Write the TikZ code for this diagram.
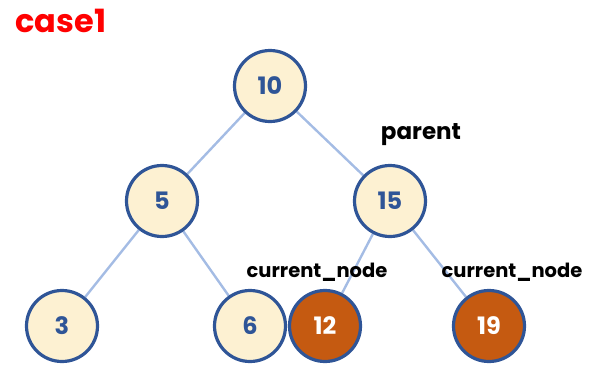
\documentclass[tikz,border=0pt]{standalone}
\usepackage{fontspec}
\setmainfont{Poppins}
\usetikzlibrary{positioning, backgrounds}
\definecolor{nodefill}{HTML}{FDF1D2}
\definecolor{nodeline}{HTML}{2F5597}
\definecolor{curfill}{HTML}{C55A11}
\definecolor{edgeline}{HTML}{A4BCE4}
\tikzset{
  tnode/.style={draw=nodeline, line width=3.2pt, circle, fill=nodefill, minimum size=71pt, inner sep=0pt, text=nodeline, font=\fontsize{24}{26}\selectfont\bfseries},
  cnode/.style={tnode, fill=curfill, text=white},
  tedge/.style={draw=edgeline, line width=2.4pt},
  tlabel/.style={font=\fontsize{19.5}{21}\selectfont\bfseries, text=black}
}
\begin{document}
\begin{tikzpicture}[x=1pt, y=-1pt]
        \useasboundingbox (0,0) rectangle (590,376);
        \node[font=\fontsize{32}{34}\selectfont\bfseries, text=red, anchor=west] (title) at (12,21) {case1};

        \node[tnode] (n10) at (270,86) {10};
        \node[tnode] (n5) at (162,201) {5};
        \node[tnode] (n15) at (390,201) {15};
        \node[tnode] (n3) at (62,326) {3};
        \node[tnode] (n6) at (250,326) {6};
        \node[cnode] (n12) at (325,326) {12};
        \node[cnode] (n19) at (489,326) {19};

        \node[font=\fontsize{23}{25}\selectfont\bfseries] (par) at (421,135) {parent};
        \node[tlabel] (cur1) at (317,272) {current\_node};
        \node[tlabel] (cur2) at (512,272) {current\_node};

        % edges behind the circles
        \begin{scope}[on background layer]
            \draw[tedge] (n10) -- (n5);
            \draw[tedge] (n10) -- (n15);
            \draw[tedge] (n5) -- (n3);
            \draw[tedge] (n5) -- (n6);
            \draw[tedge] (n15) -- (n12);
            \draw[tedge] (n15) -- (n19);
        \end{scope}
\end{tikzpicture}
\end{document}
